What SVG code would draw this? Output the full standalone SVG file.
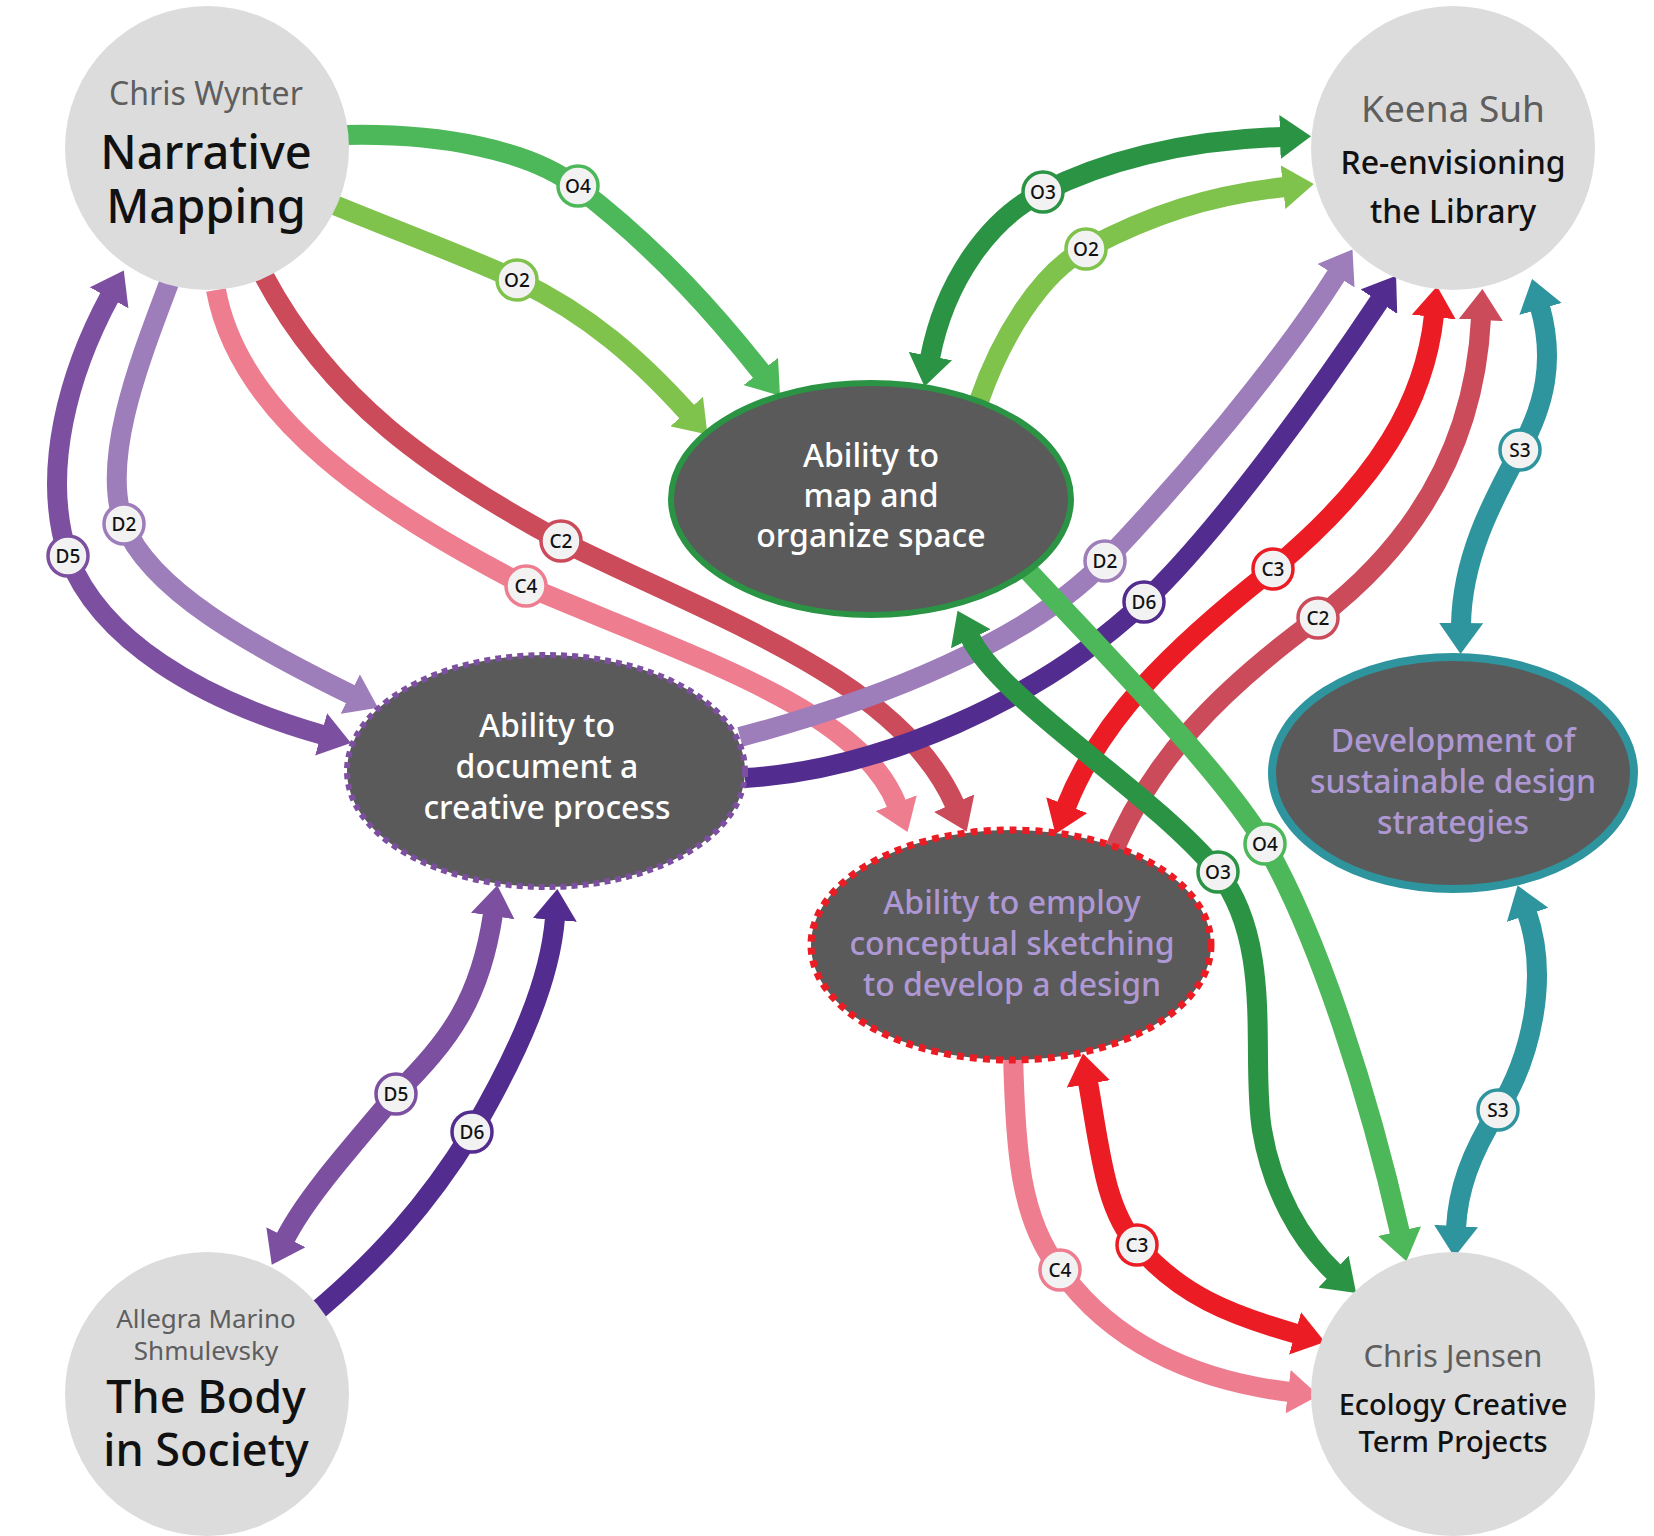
<svg xmlns="http://www.w3.org/2000/svg" width="1654" height="1536" viewBox="0 0 1654 1536">
<style>
.ln{fill:none;stroke-width:20}
.lab circle{fill:#f2f2f2;stroke-width:3.5}
.lab text{font-family:"Noto Sans",Lato,sans-serif;font-size:19px;font-weight:500;fill:#111;text-anchor:middle}
.person{fill:#dcdcdc}
.who{font-family:"Noto Sans",Lato,sans-serif;fill:#5e5e5e;text-anchor:middle}
.ttl{font-family:"Noto Sans",Lato,sans-serif;fill:#111;text-anchor:middle;font-weight:500}
.skill{fill:#5a5a5a}
.st{font-family:"Noto Sans",Lato,sans-serif;font-size:32px;text-anchor:middle;font-weight:500}
.wt{fill:#ffffff}
.lv{fill:#ae98d4}
</style>
<defs>
<marker id="mO4" markerUnits="userSpaceOnUse" viewBox="0 0 32 44" markerWidth="32" markerHeight="44" refX="2" refY="22" orient="auto-start-reverse"><path d="M0,0 L31,22 L0,44 z" fill="#4db859"/></marker>
<marker id="mO2" markerUnits="userSpaceOnUse" viewBox="0 0 32 44" markerWidth="32" markerHeight="44" refX="2" refY="22" orient="auto-start-reverse"><path d="M0,0 L31,22 L0,44 z" fill="#7fc24c"/></marker>
<marker id="mO3" markerUnits="userSpaceOnUse" viewBox="0 0 32 44" markerWidth="32" markerHeight="44" refX="2" refY="22" orient="auto-start-reverse"><path d="M0,0 L31,22 L0,44 z" fill="#2a9444"/></marker>
<marker id="mD5" markerUnits="userSpaceOnUse" viewBox="0 0 32 44" markerWidth="32" markerHeight="44" refX="2" refY="22" orient="auto-start-reverse"><path d="M0,0 L31,22 L0,44 z" fill="#7c4fa0"/></marker>
<marker id="mD2" markerUnits="userSpaceOnUse" viewBox="0 0 32 44" markerWidth="32" markerHeight="44" refX="2" refY="22" orient="auto-start-reverse"><path d="M0,0 L31,22 L0,44 z" fill="#9e7dbb"/></marker>
<marker id="mD6" markerUnits="userSpaceOnUse" viewBox="0 0 32 44" markerWidth="32" markerHeight="44" refX="2" refY="22" orient="auto-start-reverse"><path d="M0,0 L31,22 L0,44 z" fill="#532c8f"/></marker>
<marker id="mC2" markerUnits="userSpaceOnUse" viewBox="0 0 32 44" markerWidth="32" markerHeight="44" refX="2" refY="22" orient="auto-start-reverse"><path d="M0,0 L31,22 L0,44 z" fill="#cc4b5b"/></marker>
<marker id="mC4" markerUnits="userSpaceOnUse" viewBox="0 0 32 44" markerWidth="32" markerHeight="44" refX="2" refY="22" orient="auto-start-reverse"><path d="M0,0 L31,22 L0,44 z" fill="#ee7d8f"/></marker>
<marker id="mC3" markerUnits="userSpaceOnUse" viewBox="0 0 32 44" markerWidth="32" markerHeight="44" refX="2" refY="22" orient="auto-start-reverse"><path d="M0,0 L31,22 L0,44 z" fill="#ec1c24"/></marker>
<marker id="mS3" markerUnits="userSpaceOnUse" viewBox="0 0 32 44" markerWidth="32" markerHeight="44" refX="2" refY="22" orient="auto-start-reverse"><path d="M0,0 L31,22 L0,44 z" fill="#2e949e"/></marker>
</defs>
<rect width="1654" height="1536" fill="#ffffff"/>

<g id="connectors">
  <path class="ln" stroke="#ee7d8f" marker-end="url(#mC4)" d="M216,290 C240,420 380,510 526,586 C700,660 860,710 897,805"/>
  <path class="ln" stroke="#cc4b5b" marker-end="url(#mC2)" d="M264,276 C330,400 430,470 561,541 C720,620 900,680 955,805"/>
  <path class="ln" stroke="#9e7dbb" marker-end="url(#mD2)" d="M169,283 C140,360 100,460 124,524 C150,590 250,645 352,695"/>
  <path class="ln" stroke="#7c4fa0" marker-start="url(#mD5)" marker-end="url(#mD5)" d="M110,296 C70,370 40,470 68,556 C100,640 200,700 323,735"/>
  <path class="ln" stroke="#9e7dbb" marker-end="url(#mD2)" d="M740,737 C880,700 1030,640 1105,561 C1180,482 1277,369 1337,274"/>
  <path class="ln" stroke="#532c8f" marker-end="url(#mD6)" d="M745,778 C880,770 1040,700 1144,602 C1220,530 1320,390 1380,300"/>
  <path class="ln" stroke="#7c4fa0" marker-start="url(#mD5)" marker-end="url(#mD5)" d="M493,914 C480,1000 450,1040 396,1094 C340,1160 305,1200 285,1239"/>
  <path class="ln" stroke="#532c8f" marker-end="url(#mD6)" d="M300,1325 C380,1260 430,1200 472,1132 C520,1050 550,980 555,918"/>
  <path class="ln" stroke="#ec1c24" marker-start="url(#mC3)" marker-end="url(#mC3)" d="M1434,315 C1425,400 1380,480 1273,569 C1170,650 1100,720 1066,807"/>
  <path class="ln" stroke="#cc4b5b" marker-end="url(#mC2)" d="M1110,860 C1150,760 1220,690 1318,618 C1420,540 1475,440 1481,318"/>
  <path class="ln" stroke="#ee7d8f" marker-end="url(#mC4)" d="M1013,1050 C1015,1150 1020,1220 1060,1270 C1110,1340 1190,1380 1290,1392"/>
  <path class="ln" stroke="#ec1c24" marker-start="url(#mC3)" marker-end="url(#mC3)" d="M1088,1082 C1100,1150 1105,1210 1137,1245 C1180,1295 1230,1315 1297,1334"/>
  <path class="ln" stroke="#2e949e" marker-start="url(#mS3)" marker-end="url(#mS3)" d="M1540,307 C1555,360 1545,405 1520,450 C1490,505 1462,560 1461,625"/>
  <path class="ln" stroke="#2e949e" marker-start="url(#mS3)" marker-end="url(#mS3)" d="M1527,913 C1550,980 1530,1060 1498,1110 C1470,1155 1458,1190 1456,1228"/>
  <path class="ln" stroke="#4db859" marker-end="url(#mO4)" d="M346,135 C440,133 530,150 577,187 C660,250 720,320 762,373"/>
  <path class="ln" stroke="#7fc24c" marker-end="url(#mO2)" d="M332,204 C400,232 470,258 517,280 C590,315 640,360 688,413"/>
  <path class="ln" stroke="#2a9444" marker-start="url(#mO3)" marker-end="url(#mO3)" d="M930,358 C945,280 990,218 1043,192 C1100,163 1180,140 1282,137"/>
  <path class="ln" stroke="#7fc24c" marker-end="url(#mO2)" d="M979,401 C1000,340 1040,272 1086,249 C1150,215 1210,195 1285,187"/>
  <path class="ln" stroke="#4db859" marker-end="url(#mO4)" d="M1020,562 C1120,670 1220,770 1265,844 C1320,940 1370,1100 1400,1233"/>
  <path class="ln" stroke="#2a9444" marker-start="url(#mO3)" marker-end="url(#mO3)" d="M970,637 C1000,700 1150,790 1218,872 C1275,945 1250,1060 1262,1130 C1272,1190 1300,1240 1335,1273"/>
</g>

<g id="node-chris-wynter">
  <circle class="person" cx="207" cy="148" r="142"/>
  <text class="who" x="206" y="105" font-size="32">Chris Wynter</text>
  <text class="ttl" x="206" y="169" font-size="47">Narrative</text>
  <text class="ttl" x="206" y="223" font-size="47">Mapping</text>
</g>
<g id="node-keena-suh">
  <circle class="person" cx="1453" cy="148" r="142"/>
  <text class="who" x="1453" y="122" font-size="37">Keena Suh</text>
  <text class="ttl" x="1453" y="174" font-size="32">Re-envisioning</text>
  <text class="ttl" x="1453" y="223" font-size="32">the Library</text>
</g>
<g id="node-allegra">
  <circle class="person" cx="207" cy="1394" r="142"/>
  <text class="who" x="206" y="1328" font-size="26">Allegra Marino</text>
  <text class="who" x="206" y="1360" font-size="26">Shmulevsky</text>
  <text class="ttl" x="206" y="1413" font-size="45">The Body</text>
  <text class="ttl" x="206" y="1466" font-size="45">in Society</text>
</g>
<g id="node-chris-jensen">
  <circle class="person" cx="1453" cy="1394" r="142"/>
  <text class="who" x="1453" y="1367" font-size="31">Chris Jensen</text>
  <text class="ttl" x="1453" y="1415" font-size="29">Ecology Creative</text>
  <text class="ttl" x="1453" y="1452" font-size="29">Term Projects</text>
</g>

<g id="node-map">
  <ellipse class="skill" cx="871" cy="499" rx="200" ry="116" stroke="#2a9444" stroke-width="6"/>
  <text class="st wt" x="871" y="467">Ability to</text>
  <text class="st wt" x="871" y="507">map and</text>
  <text class="st wt" x="871" y="547">organize space</text>
</g>
<g id="node-document">
  <ellipse class="skill" cx="546" cy="771" rx="199" ry="116" stroke="#7c4fa0" stroke-width="6" stroke-dasharray="6 5"/>
  <text class="st wt" x="547" y="737">Ability to</text>
  <text class="st wt" x="547" y="778">document a</text>
  <text class="st wt" x="547" y="819">creative process</text>
</g>
<g id="node-sketch">
  <ellipse class="skill" cx="1011" cy="945" rx="200" ry="115" stroke="#ec1c24" stroke-width="7" stroke-dasharray="7 6"/>
  <text class="st lv" x="1012" y="914">Ability to employ</text>
  <text class="st lv" x="1012" y="955">conceptual sketching</text>
  <text class="st lv" x="1012" y="996">to develop a design</text>
</g>
<g id="node-sustainable">
  <ellipse class="skill" cx="1453" cy="773" rx="181" ry="116" stroke="#2e949e" stroke-width="8"/>
  <text class="st lv" x="1453" y="752">Development of</text>
  <text class="st lv" x="1453" y="793">sustainable design</text>
  <text class="st lv" x="1453" y="834">strategies</text>
</g>

<g id="labels">
  <g class="lab"><circle cx="578" cy="186" r="20" stroke="#4db859"/><text x="578" y="193">O4</text></g>
  <g class="lab"><circle cx="517" cy="280" r="20" stroke="#7fc24c"/><text x="517" y="287">O2</text></g>
  <g class="lab"><circle cx="1043" cy="192" r="20" stroke="#2a9444"/><text x="1043" y="199">O3</text></g>
  <g class="lab"><circle cx="1086" cy="249" r="20" stroke="#7fc24c"/><text x="1086" y="256">O2</text></g>
  <g class="lab"><circle cx="68" cy="556" r="20" stroke="#7c4fa0"/><text x="68" y="563">D5</text></g>
  <g class="lab"><circle cx="124" cy="524" r="20" stroke="#9e7dbb"/><text x="124" y="531">D2</text></g>
  <g class="lab"><circle cx="561" cy="541" r="20" stroke="#cc4b5b"/><text x="561" y="548">C2</text></g>
  <g class="lab"><circle cx="526" cy="586" r="20" stroke="#ee7d8f"/><text x="526" y="593">C4</text></g>
  <g class="lab"><circle cx="1105" cy="561" r="20" stroke="#9e7dbb"/><text x="1105" y="568">D2</text></g>
  <g class="lab"><circle cx="1144" cy="602" r="20" stroke="#532c8f"/><text x="1144" y="609">D6</text></g>
  <g class="lab"><circle cx="1273" cy="569" r="20" stroke="#ec1c24"/><text x="1273" y="576">C3</text></g>
  <g class="lab"><circle cx="1318" cy="618" r="20" stroke="#cc4b5b"/><text x="1318" y="625">C2</text></g>
  <g class="lab"><circle cx="1520" cy="450" r="20" stroke="#2e949e"/><text x="1520" y="457">S3</text></g>
  <g class="lab"><circle cx="1498" cy="1110" r="20" stroke="#2e949e"/><text x="1498" y="1117">S3</text></g>
  <g class="lab"><circle cx="1265" cy="844" r="20" stroke="#4db859"/><text x="1265" y="851">O4</text></g>
  <g class="lab"><circle cx="1218" cy="872" r="20" stroke="#2a9444"/><text x="1218" y="879">O3</text></g>
  <g class="lab"><circle cx="1060" cy="1270" r="20" stroke="#ee7d8f"/><text x="1060" y="1277">C4</text></g>
  <g class="lab"><circle cx="1137" cy="1245" r="20" stroke="#ec1c24"/><text x="1137" y="1252">C3</text></g>
  <g class="lab"><circle cx="396" cy="1094" r="20" stroke="#7c4fa0"/><text x="396" y="1101">D5</text></g>
  <g class="lab"><circle cx="472" cy="1132" r="20" stroke="#532c8f"/><text x="472" y="1139">D6</text></g>
</g>
</svg>
